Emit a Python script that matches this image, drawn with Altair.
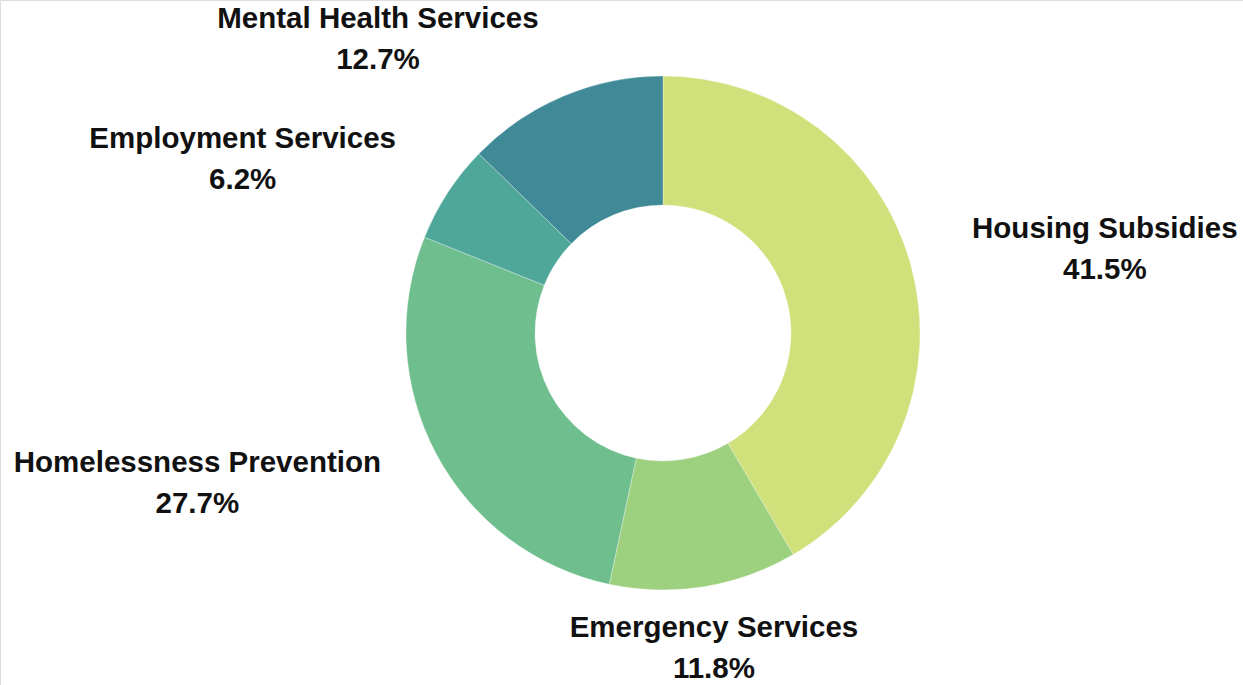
import altair as alt
import pandas as pd

categories = ["Housing Subsidies", "Emergency Services", "Homelessness Prevention",
              "Employment Services", "Mental Health Services"]
shares = [41.5, 11.8, 27.7, 6.2, 12.7]
pct_labels = ["41.5%", "11.8%", "27.7%", "6.2%", "12.7%"]
colors = ["#d0e07a", "#9dd07f", "#6fbe8e", "#4fa79a", "#3f8a96"]

df = pd.DataFrame({
    "category": categories,
    "share": shares,
    "order": list(range(len(categories))),
    "label": [f"{c}\n{p}" for c, p in zip(categories, pct_labels)],
})

CX, CY = 663, 333
R_OUT, R_IN, R_LABEL = 257, 128, 319

base = alt.Chart(df).encode(
    theta=alt.Theta("share:Q", stack=True),
    order=alt.Order("order:Q"),
    x=alt.value(CX),
    y=alt.value(CY),
)

arcs = base.mark_arc(outerRadius=R_OUT, innerRadius=R_IN, stroke="#ffffff", strokeWidth=0.3).encode(
    color=alt.Color("category:N", scale=alt.Scale(domain=categories, range=colors), legend=None),
)

# horizontal offset of each label block from its anchor point (style only)
label_dx = {
    "Housing Subsidies": 134,
    "Emergency Services": 0,
    "Homelessness Prevention": -184,
    "Employment Services": -153,
    "Mental Health Services": -161,
}

layers = [arcs]
for cat in categories:
    layers.append(
        base.mark_text(
            radius=R_LABEL, align="center", baseline="middle", dx=label_dx[cat], dy=-20,
            font="Liberation Sans", fontWeight="bold", fontSize=29.5,
            lineBreak="\n", lineHeight=41, color="#111111",
        ).encode(
            text=alt.condition(alt.datum.category == cat, "label:N", alt.value("")),
        )
    )

chart = alt.layer(*layers).properties(
    width=1243, height=685,
    autosize=alt.AutoSizeParams(type="none"),
    padding=0,
).configure_view(stroke=None).configure(background="#ffffff")

chart.save("out.html", embed_options={"renderer": "svg", "actions": False})
